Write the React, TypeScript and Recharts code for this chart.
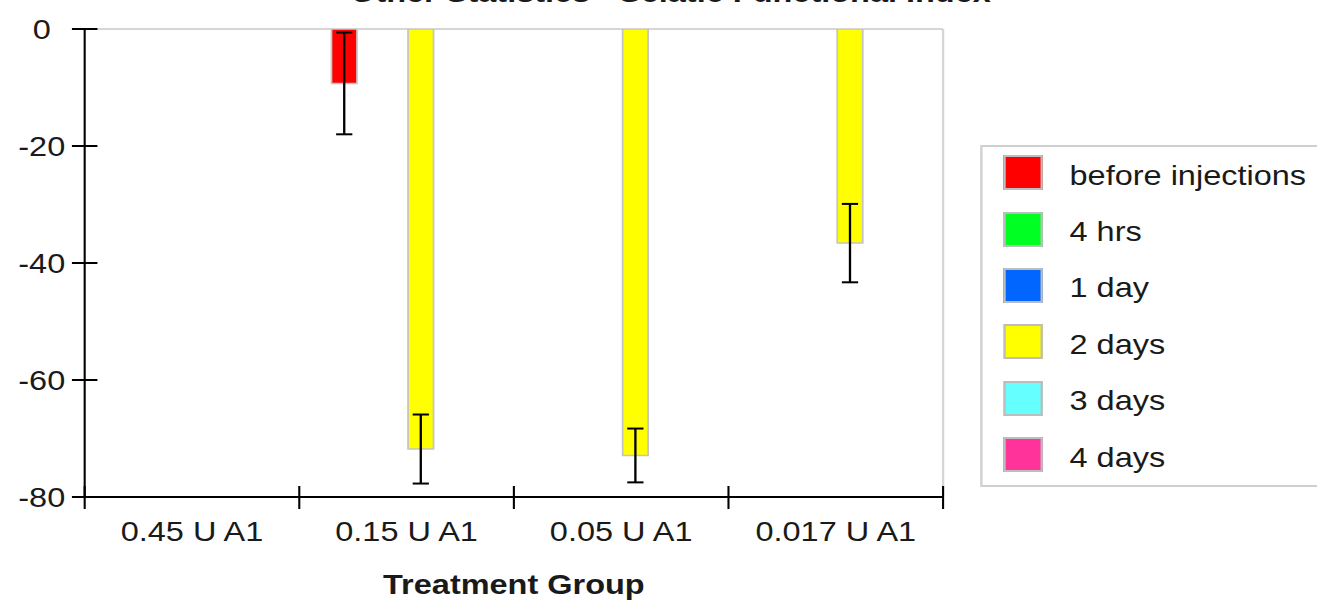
import { BarChart, Bar, XAxis, YAxis, ErrorBar, Legend, CartesianGrid } from 'recharts';

const groups = ['0.45 U A1', '0.15 U A1', '0.05 U A1', '0.017 U A1'];

const seriesNames = ['before injections', '4 hrs', '1 day', '2 days', '3 days', '4 days'];
const seriesColors = ['#ff0000', '#00ff22', '#0066ff', '#ffff00', '#66ffff', '#ff3399'];

// mean values per group (null = no data)
const beforeInjections = [null, -9.3, null, null];
const fourHrs = [null, null, null, null];
const oneDay = [null, null, null, null];
const twoDays = [null, -71.8, -72.9, -36.6];
const threeDays = [null, null, null, null];
const fourDays = [null, null, null, null];

// error bar half-lengths
const beforeInjectionsErr = [null, 8.7, null, null];
const twoDaysErr = [null, 5.9, 4.6, 6.7];
const emptyErr = [null, null, null, null];

const yTicks = [-80, -60, -40, -20, 0];

const seriesValues = [beforeInjections, fourHrs, oneDay, twoDays, threeDays, fourDays];
const seriesErrors = [beforeInjectionsErr, emptyErr, emptyErr, twoDaysErr, emptyErr, emptyErr];

const data = groups.map((g, i) => {
  const row: Record<string, any> = { group: g };
  seriesValues.forEach((vals, k) => {
    row[`s${k}`] = vals[i];
    row[`e${k}`] = seriesErrors[k][i];
  });
  return row;
});

// the reference image is stretched horizontally
const STRETCH = 1.16;
const W = 1135;
const H = 601;
const FONT = '"Liberation Sans", Arial, sans-serif';

const XTick = (props: any) => {
  const { x, y, payload, index, visibleTicksCount } = props;
  const half = payload.offset || 0;
  return (
    <g>
      <line x1={x - half} x2={x - half} y1={y - 11} y2={y + 12} stroke="#000" strokeWidth={1.8} />
      {index === visibleTicksCount - 1 && (
        <line x1={x + half} x2={x + half} y1={y - 11} y2={y + 12} stroke="#000" strokeWidth={1.8} />
      )}
      <text x={x} y={y + 44} textAnchor="middle" fontSize={28} fill="#1a1a1a" fontFamily={FONT}>
        {payload.value}
      </text>
    </g>
  );
};

const YTick = (props: any) => {
  const { x, y, payload } = props;
  return (
    <g>
      <line x1={x - 11} x2={x + 11} y1={y} y2={y} stroke="#000" strokeWidth={2} />
      <text x={x - 37} y={y} dy="0.35em" textAnchor="middle" fontSize={28} fill="#1a1a1a" fontFamily={FONT}>
        {payload.value}
      </text>
    </g>
  );
};

const renderLegend = () => (
  <div
    style={{
      border: '2px solid #cfcfcf',
      background: '#fff',
      width: 330,
      fontFamily: FONT,
      fontSize: 28,
      color: '#1a1a1a',
    }}
  >
    {seriesNames.map((name, i) => (
      <div key={name} style={{ display: 'flex', alignItems: 'center', height: 56.4, paddingBottom: 5, boxSizing: 'border-box' }}>
        <div
          style={{
            width: 34,
            height: 35,
            marginLeft: 18,
            marginRight: 23,
            background: seriesColors[i],
            border: '2px solid #bdbdbd',
            boxSizing: 'border-box',
          }}
        />
        <span style={{ whiteSpace: 'nowrap', position: 'relative', top: 3 }}>{name}</span>
      </div>
    ))}
  </div>
);

export default function App() {
  return (
    <div style={{ position: 'fixed', left: 0, top: 0, width: 1317, height: 601, overflow: 'hidden', background: '#fff' }}>
      <div style={{ position: 'relative', width: W, height: H, transform: `scaleX(${STRETCH})`, transformOrigin: '0 0', fontFamily: FONT }}>
        <div
          style={{
            position: 'absolute',
            top: -21.5,
            left: 178,
            width: 800,
            textAlign: 'center',
            fontSize: 28,
            lineHeight: '28px',
            fontWeight: 'bold',
            color: '#1a1a1a',
            whiteSpace: 'nowrap',
            zIndex: 2,
          }}
        >
          Other Statistics - Sciatic Functional Index
        </div>
        <BarChart
          width={W}
          height={H}
          data={data}
          margin={{ top: 29, right: 322, left: 0, bottom: 0 }}
          barCategoryGap="15%"
          barGap={0}
        >
          <CartesianGrid
            stroke="#d6d6d6"
            strokeWidth={2}
            horizontalCoordinatesGenerator={({ offset }: any) => [offset.top]}
            verticalCoordinatesGenerator={({ offset }: any) => [offset.left + offset.width]}
          />
          <XAxis
            dataKey="group"
            height={104}
            tickSize={0}
            tickMargin={0}
            tickLine={false}
            tick={<XTick />}
            axisLine={{ stroke: '#000', strokeWidth: 2 }}
            interval={0}
            label={{
              value: 'Treatment Group',
              position: 'insideBottom',
              offset: 7,
              fontSize: 28,
              fontWeight: 'bold',
              fill: '#1a1a1a',
              fontFamily: FONT,
            }}
          />
          <YAxis
            type="number"
            domain={[-80, 0]}
            ticks={yTicks}
            width={73}
            tickSize={0}
            tickMargin={0}
            tickLine={false}
            tick={<YTick />}
            axisLine={{ stroke: '#000', strokeWidth: 1.8 }}
            allowDataOverflow
          />
          <Legend
            layout="vertical"
            align="center"
            verticalAlign="middle"
            wrapperStyle={{ left: 845, top: 145, width: 330 }}
            content={renderLegend}
          />
          {seriesNames.map((name, k) => (
            <Bar
              key={name}
              name={name}
              dataKey={`s${k}`}
              fill={seriesColors[k]}
              stroke="#c4c4c4"
              strokeWidth={1.5}
              isAnimationActive={false}
            >
              <ErrorBar dataKey={`e${k}`} width={7} stroke="#000" strokeWidth={2} direction="y" />
            </Bar>
          ))}
        </BarChart>
      </div>
    </div>
  );
}
